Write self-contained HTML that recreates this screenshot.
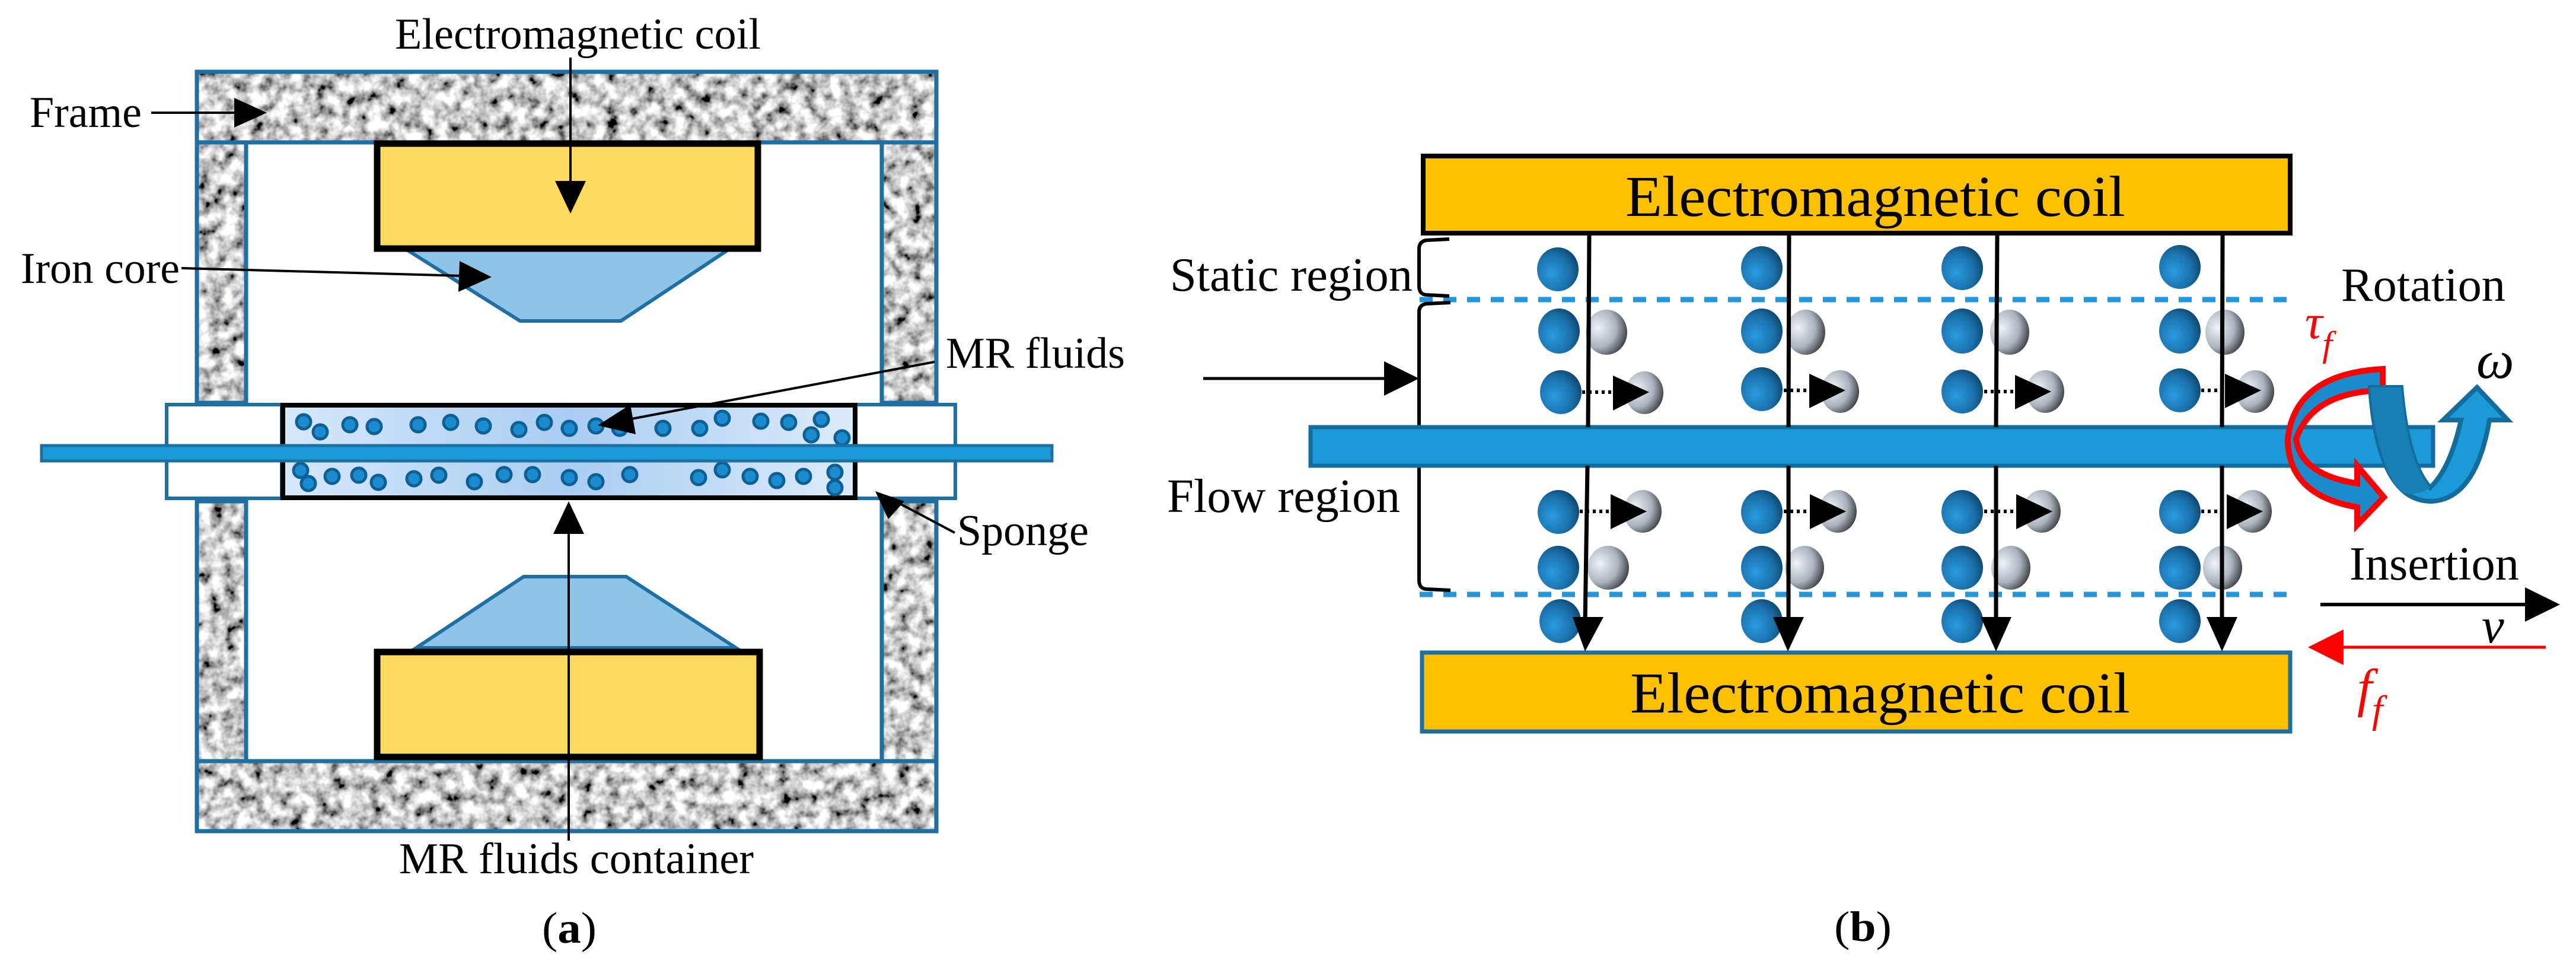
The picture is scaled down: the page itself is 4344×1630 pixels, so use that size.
<!DOCTYPE html>
<html><head><meta charset="utf-8">
<style>
html,body{margin:0;padding:0;background:#fff;}
svg{display:block;font-family:"Liberation Serif","DejaVu Serif",serif;}
text{font-family:"Liberation Serif","DejaVu Serif",serif;}
</style></head>
<body>
<svg width="4344" height="1630" viewBox="0 0 4344 1630" xmlns="http://www.w3.org/2000/svg" font-family="'Liberation Serif', 'DejaVu Serif', serif">
<defs>
  <filter id="noise" x="0" y="0" width="100%" height="100%">
    <feTurbulence type="fractalNoise" baseFrequency="0.045" numOctaves="3" seed="4" result="t"/>
    <feColorMatrix in="t" type="matrix" values="2.1 0 0 0 -0.45  2.1 0 0 0 -0.45  2.1 0 0 0 -0.45  0 0 0 0 1" result="g"/>
    <feComposite in="g" in2="SourceGraphic" operator="in"/>
  </filter>
  <linearGradient id="cont" x1="0" y1="0" x2="1" y2="0">
    <stop offset="0" stop-color="#d6e8fa"/><stop offset="0.5" stop-color="#a9cdf2"/><stop offset="1" stop-color="#dcebfa"/>
  </linearGradient>
  <radialGradient id="bp" cx="0.35" cy="0.6" r="0.75">
    <stop offset="0" stop-color="#2a9be0"/><stop offset="0.6" stop-color="#1a6fa8"/><stop offset="1" stop-color="#0c3a5c"/>
  </radialGradient>
  <radialGradient id="gp" cx="0.3" cy="0.4" r="0.8">
    <stop offset="0" stop-color="#eef3f8"/><stop offset="0.55" stop-color="#a9b4be"/><stop offset="1" stop-color="#222"/>
  </radialGradient>
</defs>

<g fill="#c9c9c9" filter="url(#noise)">
  <rect x="332" y="121" width="1247" height="119"/>
  <rect x="332" y="240" width="83" height="439"/>
  <rect x="1487" y="240" width="92" height="439"/>
  <rect x="332" y="845" width="83" height="438"/>
  <rect x="1487" y="845" width="92" height="438"/>
  <rect x="332" y="1283" width="1247" height="118"/>
</g>
<g fill="none" stroke="#1f6fa3" stroke-width="7">
  <rect x="332" y="121" width="1247" height="119"/>
  <rect x="332" y="240" width="83" height="439"/>
  <rect x="1487" y="240" width="92" height="439"/>
  <rect x="332" y="845" width="83" height="438"/>
  <rect x="1487" y="845" width="92" height="438"/>
  <rect x="332" y="1283" width="1247" height="118"/>
</g>
<polygon points="686,421 1228,421 1047,541 877,541" fill="#8ec4e8" stroke="#1f6fa3" stroke-width="6"/>
<rect x="636" y="242" width="642" height="177" fill="#ffda5c" stroke="#000" stroke-width="11"/>
<polygon points="702,1092 1241,1092 1056,972 883,972" fill="#8ec4e8" stroke="#1f6fa3" stroke-width="6"/>
<rect x="636" y="1099" width="645" height="177" fill="#ffda5c" stroke="#000" stroke-width="11"/>
<rect x="281" y="682" width="194" height="158" fill="#fff" stroke="#1f6fa3" stroke-width="6"/>
<rect x="1442" y="682" width="169" height="158" fill="#fff" stroke="#1f6fa3" stroke-width="6"/>
<rect x="477" y="683" width="965" height="156" fill="url(#cont)" stroke="#000" stroke-width="8"/>
<g fill="#1b8ccd" stroke="#0d5f94" stroke-width="5">
  <circle cx="512" cy="711" r="12"/><circle cx="540" cy="728" r="12"/><circle cx="590" cy="716" r="12"/><circle cx="631" cy="719" r="12"/>
  <circle cx="705" cy="716" r="12"/><circle cx="760" cy="712" r="12"/><circle cx="815" cy="718" r="12"/><circle cx="875" cy="724" r="12"/>
  <circle cx="918" cy="712" r="12"/><circle cx="960" cy="722" r="12"/><circle cx="1005" cy="718" r="12"/><circle cx="1045" cy="722" r="12"/>
  <circle cx="1118" cy="722" r="12"/><circle cx="1180" cy="722" r="12"/><circle cx="1218" cy="705" r="12"/><circle cx="1283" cy="710" r="12"/>
  <circle cx="1330" cy="712" r="12"/><circle cx="1385" cy="707" r="12"/><circle cx="1368" cy="733" r="12"/><circle cx="1420" cy="738" r="12"/>
  <circle cx="507" cy="793" r="12"/><circle cx="520" cy="815" r="12"/><circle cx="560" cy="803" r="12"/><circle cx="605" cy="801" r="12"/>
  <circle cx="638" cy="813" r="12"/><circle cx="698" cy="807" r="12"/><circle cx="740" cy="801" r="12"/><circle cx="800" cy="812" r="12"/>
  <circle cx="850" cy="800" r="12"/><circle cx="898" cy="800" r="12"/><circle cx="960" cy="805" r="12"/><circle cx="1005" cy="812" r="12"/>
  <circle cx="1062" cy="800" r="12"/><circle cx="1178" cy="805" r="12"/><circle cx="1218" cy="792" r="12"/><circle cx="1265" cy="803" r="12"/>
  <circle cx="1310" cy="810" r="12"/><circle cx="1355" cy="803" r="12"/><circle cx="1408" cy="796" r="12"/><circle cx="1408" cy="822" r="12"/>
</g>
<rect x="70" y="751" width="1704" height="26" fill="#1a9ad6" stroke="#1f6fa3" stroke-width="5"/>

<g stroke="#000" stroke-width="4" fill="none">
  <line x1="255" y1="190" x2="400" y2="190"/>
  <line x1="962" y1="97" x2="962" y2="310"/>
  <line x1="306" y1="452" x2="780" y2="465"/>
  <line x1="1576" y1="610" x2="1060" y2="707"/>
  <line x1="959" y1="1417" x2="959" y2="890"/>
  <line x1="1610" y1="898" x2="1510" y2="845"/>
</g>
<g fill="#000">
  <polygon points="450,190 395,165 395,215"/>
  <polygon points="962,360 936,305 988,305"/>
  <polygon points="829,467 775,440 773,492"/>
  <polygon points="1008,717 1063,682 1072,732"/>
  <polygon points="959,845 933,900 985,900"/>
  <polygon points="1476,828 1525,845 1498,875"/>
</g>
<g font-size="74" fill="#000" font-family="'Liberation Serif', 'DejaVu Serif', serif">
  <text x="666" y="82" textLength="617" lengthAdjust="spacingAndGlyphs">Electromagnetic coil</text>
  <text x="50" y="214" textLength="189" lengthAdjust="spacingAndGlyphs">Frame</text>
  <text x="35" y="477" textLength="268" lengthAdjust="spacingAndGlyphs">Iron core</text>
  <text x="1595" y="620" textLength="302" lengthAdjust="spacingAndGlyphs">MR fluids</text>
  <text x="1614" y="919" textLength="222" lengthAdjust="spacingAndGlyphs">Sponge</text>
  <text x="673" y="1472" textLength="598" lengthAdjust="spacingAndGlyphs">MR fluids container</text>
  <text x="914" y="1589" textLength="92" lengthAdjust="spacingAndGlyphs">(<tspan font-weight="bold">a</tspan>)</text>
</g>

<rect x="2400" y="263" width="1462" height="130" fill="#ffc000" stroke="#000" stroke-width="8"/>
<rect x="2398" y="1100" width="1464" height="133" fill="#ffc000" stroke="#1f6fa3" stroke-width="7"/>
<g font-size="98" fill="#000" font-family="'Liberation Serif', 'DejaVu Serif', serif">
  <text x="2741" y="364" textLength="843" lengthAdjust="spacingAndGlyphs">Electromagnetic coil</text>
  <text x="2749" y="1201" textLength="843" lengthAdjust="spacingAndGlyphs">Electromagnetic coil</text>
</g>
<g stroke="#2396dc" stroke-width="9" stroke-dasharray="22,18">
  <line x1="2394" y1="505" x2="3862" y2="505"/>
  <line x1="2394" y1="1002" x2="3862" y2="1002"/>
</g>
<g fill="none" stroke="#000" stroke-width="6">
  <path d="M2444,403 L2405,405 Q2393,407 2393,420 L2393,482 Q2393,496 2405,497 L2444,499"/>
  <path d="M2446,510 L2405,512 Q2393,514 2393,526 L2393,978 Q2393,992 2405,993 L2446,995"/>
</g>
<g font-size="80" fill="#000" font-family="'Liberation Serif', 'DejaVu Serif', serif">
  <text x="1973" y="490" textLength="409" lengthAdjust="spacingAndGlyphs">Static region</text>
  <text x="1968" y="863" textLength="393" lengthAdjust="spacingAndGlyphs">Flow region</text>
</g>
<line x1="2029" y1="638" x2="2340" y2="638" stroke="#000" stroke-width="5"/>
<polygon points="2393,638 2334,609 2334,667" fill="#000"/>

<rect x="2210" y="720" width="1893" height="65" fill="#1a9ad6" stroke="#146b9c" stroke-width="7"/>

<g>
  <g>
    <ellipse cx="2627" cy="454" rx="35" ry="37" fill="url(#bp)"/>
    <ellipse cx="2629" cy="558" rx="35" ry="38" fill="url(#bp)"/>
    <ellipse cx="2709" cy="560" rx="35" ry="38" fill="url(#gp)"/>
    <ellipse cx="2632" cy="661" rx="35" ry="37" fill="url(#bp)"/>
    <ellipse cx="2773" cy="662" rx="32" ry="36" fill="url(#gp)"/>
    <ellipse cx="2628" cy="863" rx="35" ry="37" fill="url(#bp)"/>
    <ellipse cx="2770" cy="862" rx="32" ry="36" fill="url(#gp)"/>
    <ellipse cx="2628" cy="957" rx="35" ry="37" fill="url(#bp)"/>
    <ellipse cx="2712" cy="957" rx="35" ry="37" fill="url(#gp)"/>
    <ellipse cx="2631" cy="1047" rx="35" ry="37" fill="url(#bp)"/>
  </g>
  <g>
    <ellipse cx="2971" cy="452" rx="35" ry="37" fill="url(#bp)"/>
    <ellipse cx="2971" cy="558" rx="35" ry="38" fill="url(#bp)"/>
    <ellipse cx="3045" cy="560" rx="33" ry="38" fill="url(#gp)"/>
    <ellipse cx="2971" cy="656" rx="35" ry="37" fill="url(#bp)"/>
    <ellipse cx="3103" cy="660" rx="32" ry="36" fill="url(#gp)"/>
    <ellipse cx="2971" cy="863" rx="35" ry="37" fill="url(#bp)"/>
    <ellipse cx="3099" cy="862" rx="32" ry="36" fill="url(#gp)"/>
    <ellipse cx="2971" cy="957" rx="35" ry="37" fill="url(#bp)"/>
    <ellipse cx="3043" cy="957" rx="33" ry="37" fill="url(#gp)"/>
    <ellipse cx="2971" cy="1047" rx="35" ry="37" fill="url(#bp)"/>
  </g>
  <g>
    <ellipse cx="3309" cy="452" rx="35" ry="37" fill="url(#bp)"/>
    <ellipse cx="3309" cy="558" rx="35" ry="38" fill="url(#bp)"/>
    <ellipse cx="3389" cy="560" rx="33" ry="38" fill="url(#gp)"/>
    <ellipse cx="3309" cy="660" rx="35" ry="37" fill="url(#bp)"/>
    <ellipse cx="3449" cy="660" rx="32" ry="36" fill="url(#gp)"/>
    <ellipse cx="3309" cy="863" rx="35" ry="37" fill="url(#bp)"/>
    <ellipse cx="3443" cy="862" rx="32" ry="36" fill="url(#gp)"/>
    <ellipse cx="3309" cy="957" rx="35" ry="37" fill="url(#bp)"/>
    <ellipse cx="3391" cy="957" rx="33" ry="37" fill="url(#gp)"/>
    <ellipse cx="3309" cy="1047" rx="35" ry="37" fill="url(#bp)"/>
  </g>
  <g>
    <ellipse cx="3676" cy="450" rx="35" ry="37" fill="url(#bp)"/>
    <ellipse cx="3676" cy="558" rx="35" ry="38" fill="url(#bp)"/>
    <ellipse cx="3752" cy="560" rx="33" ry="38" fill="url(#gp)"/>
    <ellipse cx="3676" cy="658" rx="35" ry="37" fill="url(#bp)"/>
    <ellipse cx="3803" cy="660" rx="32" ry="36" fill="url(#gp)"/>
    <ellipse cx="3676" cy="863" rx="35" ry="37" fill="url(#bp)"/>
    <ellipse cx="3799" cy="862" rx="32" ry="36" fill="url(#gp)"/>
    <ellipse cx="3676" cy="957" rx="35" ry="37" fill="url(#bp)"/>
    <ellipse cx="3748" cy="957" rx="33" ry="37" fill="url(#gp)"/>
    <ellipse cx="3676" cy="1047" rx="35" ry="37" fill="url(#bp)"/>
  </g>
</g>
<g stroke="#000" stroke-width="6" stroke-dasharray="5,6">
  <line x1="2668" y1="661" x2="2722" y2="661"/><line x1="3008" y1="658" x2="3050" y2="658"/>
  <line x1="3346" y1="660" x2="3398" y2="660"/><line x1="3712" y1="658" x2="3752" y2="658"/>
  <line x1="2664" y1="862" x2="2718" y2="862"/><line x1="3008" y1="862" x2="3050" y2="862"/>
  <line x1="3346" y1="862" x2="3398" y2="862"/><line x1="3712" y1="862" x2="3752" y2="862"/>
</g>
<g fill="#000">
  <polygon points="2720,633 2781,661 2720,692"/><polygon points="3051,630 3112,658 3051,688"/>
  <polygon points="3398,632 3459,660 3398,690"/><polygon points="3752,630 3813,658 3752,688"/>
  <polygon points="2716,833 2777,862 2716,892"/><polygon points="3052,833 3113,862 3052,892"/>
  <polygon points="3400,833 3461,862 3400,892"/><polygon points="3755,833 3816,862 3755,892"/>
</g>
<g stroke="#000" stroke-width="7">
  <line x1="2680" y1="395" x2="2678" y2="720"/><line x1="2677" y1="785" x2="2673" y2="1050"/>
  <line x1="3017" y1="390" x2="3016" y2="720"/><line x1="3016" y1="785" x2="3016" y2="1050"/>
  <line x1="3368" y1="395" x2="3366" y2="720"/><line x1="3366" y1="785" x2="3366" y2="1050"/>
  <line x1="3748" y1="395" x2="3747" y2="720"/><line x1="3747" y1="785" x2="3747" y2="1050"/>
</g>
<g fill="#000">
  <polygon points="2652,1040 2704,1040 2673,1098"/><polygon points="2990,1040 3042,1040 3015,1098"/>
  <polygon points="3340,1040 3392,1040 3366,1098"/><polygon points="3721,1040 3773,1040 3747,1098"/>
</g>

<path d="M4018,622 L4018,658 Q3900,660 3872,740 Q3880,800 3975,815 L3975,785 L4020,838 L3975,885 L3975,855 Q3858,835 3858,740 Q3870,630 4018,622 Z" fill="#1a8ccc" stroke="#ff0000" stroke-width="10" stroke-linejoin="miter"/>
<path d="M3997,653 L4049,653 Q4060,780 4098,822 Q4132,790 4150,708 L4120,708 L4177,653 L4229,708 L4198,708 Q4175,842 4100,845 Q4010,845 3997,653 Z" fill="#1a9ad6" stroke="#146b9c" stroke-width="8"/>
<path d="M3997,653 L4049,653 Q4060,780 4098,822 Q4060,845 4040,820 Q4005,760 3997,653 Z" fill="#177fb4"/>

<g font-size="80" fill="#000" font-family="'Liberation Serif', 'DejaVu Serif', serif">
  <text x="3948" y="507" textLength="277" lengthAdjust="spacingAndGlyphs">Rotation</text>
  <text x="3962" y="977" textLength="286" lengthAdjust="spacingAndGlyphs">Insertion</text>
</g>
<g font-family="'Liberation Serif', 'DejaVu Serif', serif" font-style="italic">
<text x="3887" y="570" font-size="82" fill="#ff0000">τ<tspan font-size="60" dy="30">f</tspan></text>
<text x="4176" y="637" font-size="90" fill="#000">ω</text>
<text x="4185" y="1083" font-size="85" fill="#000">v</text>
<text x="3975" y="1190" font-size="90" fill="#ff0000">f<tspan font-size="66" dy="28">f</tspan></text>
</g>
<line x1="3913" y1="1019" x2="4262" y2="1019" stroke="#000" stroke-width="6"/>
<polygon points="4317,1019 4258,990 4258,1048" fill="#000"/>
<line x1="3948" y1="1091" x2="4293" y2="1091" stroke="#ff0000" stroke-width="5"/>
<polygon points="3892,1091 3952,1061 3952,1121" fill="#ff0000"/>

<text x="3093" y="1586" font-size="72" fill="#000" font-family="'Liberation Serif', 'DejaVu Serif', serif" textLength="97" lengthAdjust="spacingAndGlyphs">(<tspan font-weight="bold">b</tspan>)</text>
</svg>
</body></html>
